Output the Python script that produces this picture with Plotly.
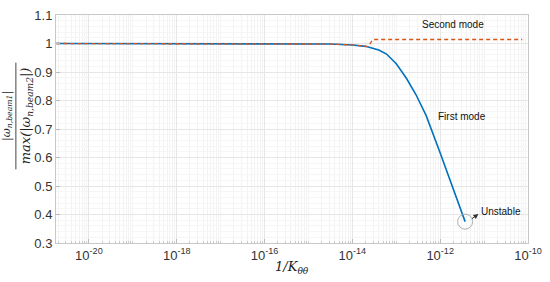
import plotly.graph_objects as go

# first mode (normalized frequency) vs 1/K
x_first = [1.8e-21, 1e-18, 1e-16, 1e-15, 3.2e-15, 1e-14, 2e-14, 4e-14, 6e-14,
           1e-13, 1.7e-13, 2.8e-13, 4.8e-13, 1e-12, 2e-12, 3.7e-12]
y_first = [1.0, 1.0, 1.0, 0.9998, 0.998, 0.995, 0.990, 0.977, 0.963,
           0.929, 0.878, 0.821, 0.747, 0.616, 0.492, 0.375]

# second mode
x_second = [1.8e-21, 1e-18, 1e-16, 1e-15, 3.2e-15, 1e-14, 2.3e-14, 2.9e-14, 7.4e-11]
y_second = [1.0, 1.0, 1.0, 0.9998, 0.998, 0.995, 0.989, 1.014, 1.014]

xticks = [1e-20, 1e-18, 1e-16, 1e-14, 1e-12, 1e-10]
xtick_text = ["10<sup>-20</sup>", "10<sup>-18</sup>", "10<sup>-16</sup>",
              "10<sup>-14</sup>", "10<sup>-12</sup>", "10<sup>-10</sup>"]

blue = "#0072BD"
red = "#D95319"
font = "Liberation Sans, Arial, sans-serif"
serif = "DejaVu Serif, serif"

fig = go.Figure()
fig.add_trace(go.Scatter(x=x_first, y=y_first, mode="lines",
                         line=dict(color=blue, width=1.6)))
fig.add_trace(go.Scatter(x=x_second, y=y_second, mode="lines",
                         line=dict(color=red, width=1.3, dash="4px,3px")))
# unstable point marker
fig.add_trace(go.Scatter(x=[x_first[-1]], y=[y_first[-1]], mode="markers",
                         marker=dict(symbol="circle-open", size=15,
                                     color="#b0b0b0", line=dict(width=1))))

fig.add_annotation(x=-11.13, y=0.402, ax=-8, ay=6, text="", showarrow=True,
                   arrowhead=2, arrowsize=1, arrowwidth=1, arrowcolor="#333")
fig.add_annotation(x=-11.12, y=0.41, text="Unstable", showarrow=False,
                   xanchor="left", font=dict(size=10, color="#111", family=font))
fig.add_annotation(x=-11.5, y=0.745, text="First mode", showarrow=False,
                   font=dict(size=10, color="#111", family=font))
fig.add_annotation(x=-11.7, y=1.068, text="Second mode", showarrow=False,
                   font=dict(size=10, color="#111", family=font))

# y-axis label drawn as a fraction: numerator, bar, denominator
fig.add_annotation(xref="paper", yref="paper", x=-0.104, y=0.557,
                   xanchor="center", yanchor="middle", borderpad=0,
                   text="<i>|ω<sub>n,beam1</sub>|</i>", textangle=-90, showarrow=False,
                   font=dict(size=11, color="#222", family=serif))
fig.add_shape(type="line", xref="paper", yref="paper", x0=-0.085, x1=-0.085,
              y0=0.323, y1=0.791, line=dict(color="#444", width=1))
fig.add_annotation(xref="paper", yref="paper", x=-0.063, y=0.557,
                   xanchor="center", yanchor="middle", borderpad=0,
                   text="<i>max(|ω<sub>n,beam2</sub>|)</i>", textangle=-90, showarrow=False,
                   font=dict(size=13, color="#222", family=serif))
# x-axis label
fig.add_annotation(xref="paper", yref="paper", x=0.5, y=-0.106, yanchor="middle",
                   text="<i>1/K<sub>θθ</sub></i>", showarrow=False,
                   font=dict(size=13, color="#222", family=serif))

fig.update_xaxes(type="log", range=[-20.75, -10], tickvals=xticks, ticktext=xtick_text,
                 showgrid=True, gridcolor="#e6e6e6", gridwidth=1,
                 ticks="inside", ticklen=4, tickcolor="#bbb",
                 showline=True, linecolor="#c8c8c8", mirror=True, zeroline=False,
                 minor=dict(dtick="D1", showgrid=True, gridcolor="#f3f3f3",
                            ticks="inside", ticklen=2, tickcolor="#ccc"),
                 tickfont=dict(size=13, color="#333", family=font))
fig.update_yaxes(range=[0.3, 1.1], dtick=0.1, tick0=0.3,
                 showgrid=True, gridcolor="#e6e6e6", gridwidth=1,
                 ticks="inside", ticklen=4, tickcolor="#bbb",
                 showline=True, linecolor="#c8c8c8", mirror=True, zeroline=False,
                 minor=dict(dtick=0.02, showgrid=True, gridcolor="#f6f6f6"),
                 tickfont=dict(size=13, color="#333", family=font))

fig.update_layout(width=550, height=282, showlegend=False,
                  margin=dict(l=56, r=17, t=8, b=39),
                  plot_bgcolor="white", paper_bgcolor="white")

fig.write_html("out.html", config={"displayModeBar": False},
               post_script="document.body.style.margin='0';")
